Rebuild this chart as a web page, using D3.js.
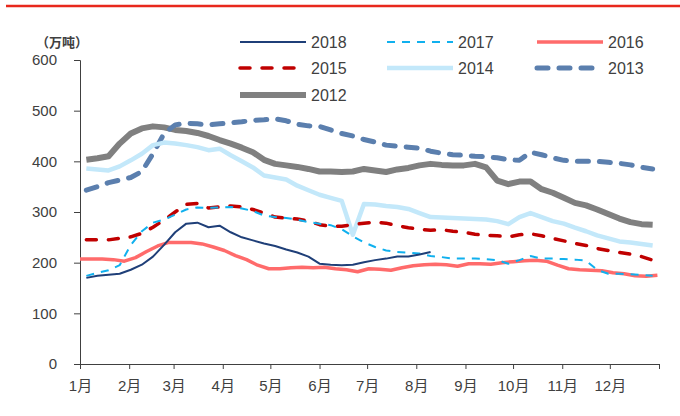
<!DOCTYPE html>
<html>
<head>
<meta charset="utf-8">
<script src="https://cdn.jsdelivr.net/npm/d3@7"></script>
<style>
  body { margin: 0; background: #fff; }
  text { font-family: "Liberation Sans", Arial, "Noto Sans CJK SC", sans-serif; }
</style>
</head>
<body>
<svg id="chart" width="680" height="416"></svg>
<script>
// month boundaries (day of year) and labels
const monthDays = [0, 31, 59, 90, 120, 151, 181, 212, 243, 273, 304, 334, 365];
const monthLabels = ["1月","2月","3月","4月","5月","6月","7月","8月","9月","10月","11月","12月"];
const yTicks = [0, 100, 200, 300, 400, 500, 600];

// weekly values, 万吨
const v2018 = [170,174,176,178,186,196,212,235,260,277,279,270,273,260,250,244,238,233,226,220,212,198,196,195,196,201,205,208,212,212,216,221];
const v2017 = [174,180,185,195,235,262,279,285,295,305,309,308,309,310,307,302,293,290,288,285,280,277,274,266,252,240,231,224,221,220,218,213,211,208,208,208,207,205,198,205,213,208,208,207,206,204,186,178,178,177,176,174];
const v2016 = [207,207,207,206,203,210,222,233,240,240,240,237,231,224,214,206,195,188,188,190,191,190,191,188,186,182,188,187,185,190,194,196,197,196,193,198,198,197,200,202,204,205,203,195,188,186,185,184,180,178,174,173,175];
const v2015 = [245,245,245,248,251,258,270,284,300,315,317,308,310,312,310,305,298,290,288,286,282,275,272,272,275,278,280,278,273,269,266,264,265,262,260,256,254,253,251,255,257,253,248,243,238,234,228,224,220,217,212,205];
const v2014 = [386,384,382,390,402,415,432,437,435,432,428,422,425,412,400,388,372,368,364,352,343,334,328,322,255,316,315,312,310,306,298,290,289,288,287,286,285,282,276,290,298,290,282,277,269,262,254,248,242,240,237,234];
const v2013 = [343,350,358,363,368,380,415,455,472,475,474,472,474,476,478,481,482,484,480,473,470,469,462,455,450,443,438,432,430,428,426,420,416,413,412,410,409,407,403,402,418,413,407,402,400,400,400,398,396,393,388,385];
const v2012 = [403,406,410,435,455,465,469,467,462,460,456,450,442,435,427,418,403,395,392,389,385,380,380,379,380,385,382,379,384,387,392,395,393,392,392,395,388,362,355,360,360,345,338,328,318,313,305,296,287,280,276,275];

const series = [
  {name: "2018", values: v2018, start: 4, color: "#1f3f78", width: 2,   dash: null,    cap: "butt"},
  {name: "2017", values: v2017, start: 4, color: "#10b0ee", width: 2,   dash: "8,7",   cap: "butt"},
  {name: "2016", values: v2016, start: 0, color: "#ff6b6b", width: 3.5, dash: null,    cap: "butt"},
  {name: "2015", values: v2015, start: 4, color: "#c00000", width: 3.5, dash: "10,12", cap: "round"},
  {name: "2014", values: v2014, start: 4, color: "#c3e8fa", width: 4.5, dash: null,    cap: "butt"},
  {name: "2013", values: v2013, start: 4, color: "#5b7fae", width: 5,   dash: "11,11", cap: "round"},
  {name: "2012", values: v2012, start: 4, color: "#808080", width: 6,   dash: null,    cap: "butt"}
];

const svg = d3.select("#chart");

// red rule at top
svg.append("line")
  .attr("x1", 6).attr("x2", 680).attr("y1", 6).attr("y2", 6)
  .attr("stroke", "#e8281c").attr("stroke-width", 2.5);

const x = d3.scaleLinear().domain([0, 365]).range([80, 659]);
const y = d3.scaleLinear().domain([0, 600]).range([364, 60]);

// y axis
const yAxis = svg.append("g")
  .attr("transform", "translate(80,0)")
  .call(d3.axisLeft(y).tickValues(yTicks).tickSize(6).tickPadding(17));
yAxis.selectAll("text").style("font-size", "15px").attr("fill", "#404040");
yAxis.selectAll("line, path").attr("stroke", "#404040");

// x axis
const xAxis = svg.append("g")
  .attr("transform", "translate(0,364)")
  .call(d3.axisBottom(x).tickValues(monthDays).tickSize(5).tickSizeOuter(0).tickPadding(11)
    .tickFormat((d, i) => monthLabels[i] || ""));
xAxis.selectAll("text").style("font-size", "15px").attr("fill", "#404040");
xAxis.selectAll("line, path").attr("stroke", "#404040");

// unit label
svg.append("text")
  .attr("x", 36).attr("y", 47)
  .style("font-size", "13px").style("font-weight", "bold")
  .attr("fill", "#404040")
  .text("（万吨）");

// lines, drawn back to front
const line = d3.line()
  .x(d => x(d.day))
  .y(d => y(d.v));

series.slice().reverse().forEach(s => {
  const pts = s.values.map((v, i) => ({day: s.start + i * 7, v: v}));
  svg.append("path")
    .datum(pts)
    .attr("fill", "none")
    .attr("stroke", s.color)
    .attr("stroke-width", s.width)
    .attr("stroke-linejoin", "round")
    .attr("stroke-linecap", s.cap)
    .attr("stroke-dasharray", s.dash)
    .attr("d", line);
});

// legend
const legendPos = [
  [240, 42], [387, 42], [537, 42],
  [240, 68], [387, 68], [537, 68],
  [240, 95]
];
const legend = svg.append("g");
series.forEach((s, i) => {
  const [lx, ly] = legendPos[i];
  legend.append("line")
    .attr("x1", lx).attr("x2", lx + 66)
    .attr("y1", ly).attr("y2", ly)
    .attr("stroke", s.color)
    .attr("stroke-width", s.width)
    .attr("stroke-linecap", s.cap)
    .attr("stroke-dasharray", s.dash);
  legend.append("text")
    .attr("x", lx + 71).attr("y", ly + 6)
    .style("font-size", "16px").attr("fill", "#404040")
    .text(s.name);
});
</script>
</body>
</html>
